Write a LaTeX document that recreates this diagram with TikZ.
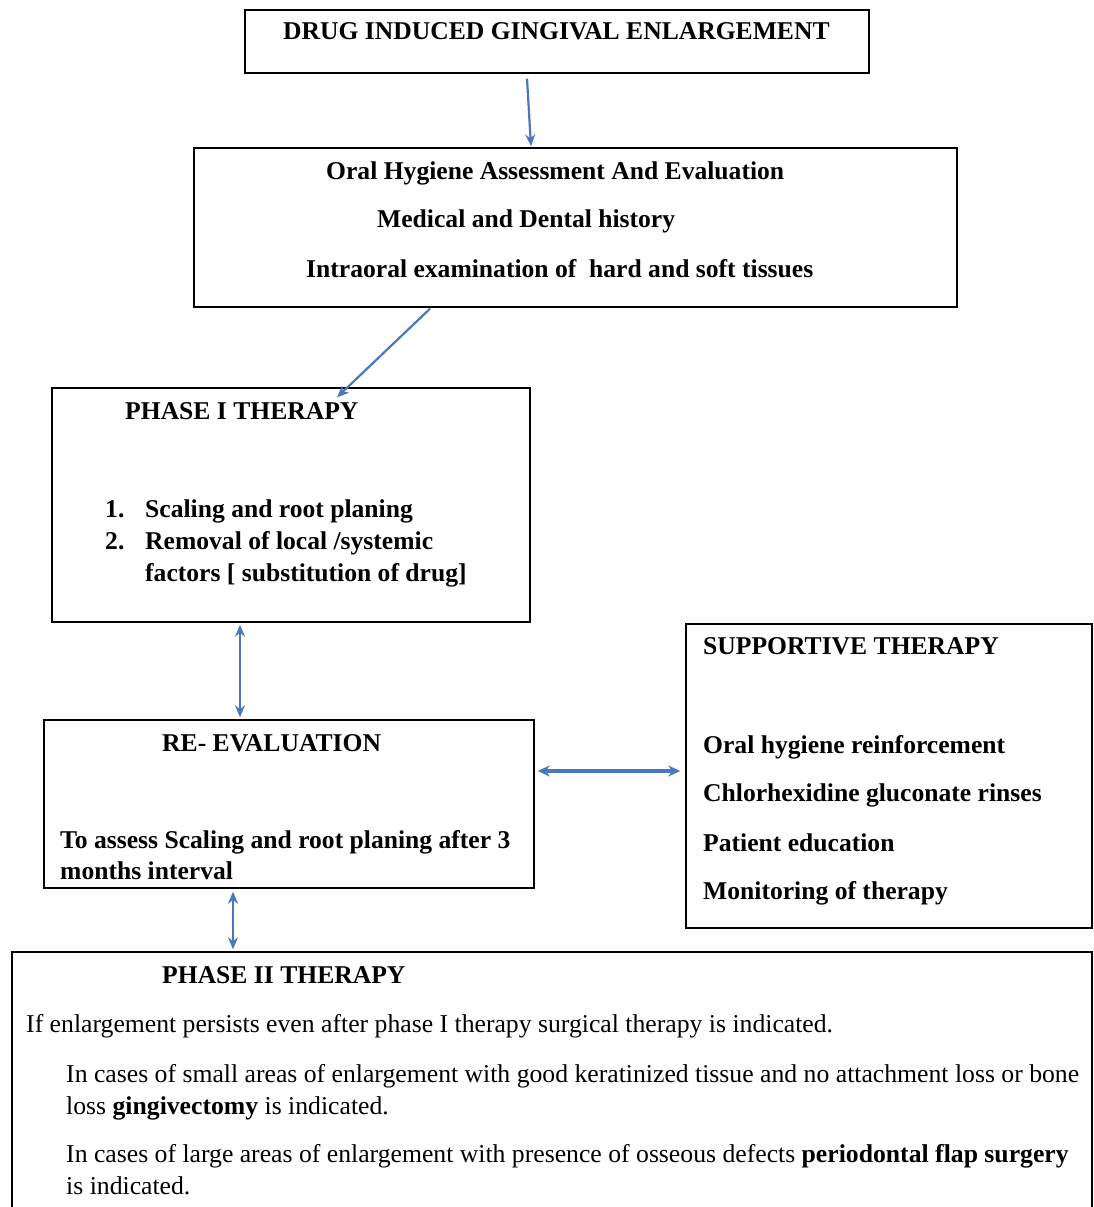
\documentclass[tikz,border=0pt]{standalone}
\usepackage{fontspec}
\setmainfont{Liberation Serif}
\usetikzlibrary{arrows.meta,calc}
\definecolor{arrowblue}{RGB}{74,120,190}
\tikzset{
  box/.style={draw=black,line width=1.4pt,rectangle,inner sep=0pt},
  btxt/.style={anchor=base west,inner sep=0pt,font=\fontsize{25.6}{30}\selectfont\bfseries},
  rtxt/.style={anchor=base west,inner sep=0pt,font=\fontsize{25.7}{30}\selectfont},
  conn/.style={draw=arrowblue,line width=2.2pt,-{Stealth[length=12pt,width=10pt]}},
  dconn/.style={draw=arrowblue,line width=2.2pt,{Stealth[length=12pt,width=10pt]}-{Stealth[length=12pt,width=10pt]}},
  dconnthick/.style={draw=arrowblue,line width=3.2pt,{Stealth[length=12pt,width=11pt]}-{Stealth[length=12pt,width=11pt]}}
}
\begin{document}
\begin{tikzpicture}[x=1pt,y=-1pt]
\useasboundingbox[fill=white] (0,0) rectangle (1093,1207);
% boxes
\node[box,minimum width=624pt,minimum height=63pt] (b1) at (557,41.5) {};
\node[box,minimum width=763pt,minimum height=159pt] (b2) at (575.5,227.5) {};
\node[box,minimum width=478pt,minimum height=234pt] (p1) at (291,505) {};
\node[box,minimum width=490pt,minimum height=168pt] (re) at (289,804) {};
\node[box,minimum width=406pt,minimum height=304pt] (sup) at (889,776) {};
\node[box,minimum width=1080pt,minimum height=290pt] (p2) at (552,1097) {};
% texts
\node[btxt] (t1) at (283,40) {DRUG INDUCED GINGIVAL ENLARGEMENT};
\node[btxt] (t2a) at (326,179) {Oral Hygiene Assessment And Evaluation};
\node[btxt] (t2b) at (377,227) {Medical and Dental history};
\node[btxt] (t2c) at (306,277) {Intraoral examination of\ \ hard and soft tissues};
\node[btxt] (t3) at (125,419) {PHASE I THERAPY};
\node[btxt] (t3n1) at (105,517) {1.};
\node[btxt] (t3a) at (145,517) {Scaling and root planing};
\node[btxt] (t3n2) at (105,549) {2.};
\node[btxt] (t3b) at (145,549) {Removal of local /systemic};
\node[btxt] (t3c) at (145,581) {factors [ substitution of drug]};
\node[btxt] (t4) at (162,751) {RE- EVALUATION};
\node[btxt] (t4a) at (60,848) {To assess Scaling and root planing after 3};
\node[btxt] (t4b) at (60,879) {months interval};
\node[btxt] (t5) at (703,654) {SUPPORTIVE THERAPY};
\node[btxt] (t5a) at (703,753) {Oral hygiene reinforcement};
\node[btxt] (t5b) at (703,801) {Chlorhexidine gluconate rinses};
\node[btxt] (t5c) at (703,851) {Patient education};
\node[btxt] (t5d) at (703,899) {Monitoring of therapy};
\node[btxt] (t6) at (162,983) {PHASE II THERAPY};
\node[rtxt] (t6a) at (26,1032) {If enlargement persists even after phase I therapy surgical therapy is indicated.};
\node[rtxt] (t6b) at (66,1082) {In cases of small areas of enlargement with good keratinized tissue and no attachment loss or bone};
\node[rtxt] (t6c) at (66,1114) {loss \textbf{gingivectomy} is indicated.};
\node[rtxt] (t6d) at (66,1162) {In cases of large areas of enlargement with presence of osseous defects \textbf{periodontal flap surgery}};
\node[rtxt] (t6e) at (66,1194) {is indicated.};
% connectors
\draw[conn] ([shift={(-30,5)}]b1.south) -- ([shift={(-44.5,-1)}]b2.north);
\draw[conn] ([shift={(-145.5,1)}]b2.south) -- ([shift={(46,10)}]p1.north);
\draw[dconn] ([shift={(-51,2)}]p1.south) -- ([shift={(-49,-2)}]re.north);
\draw[dconnthick] ([shift={(3,-33)}]re.east) -- ([shift={(-5,-5)}]sup.west);
\draw[dconn] ([shift={(-56,3)}]re.south) -- ([shift={(-319,-2)}]p2.north);
\end{tikzpicture}
\end{document}
